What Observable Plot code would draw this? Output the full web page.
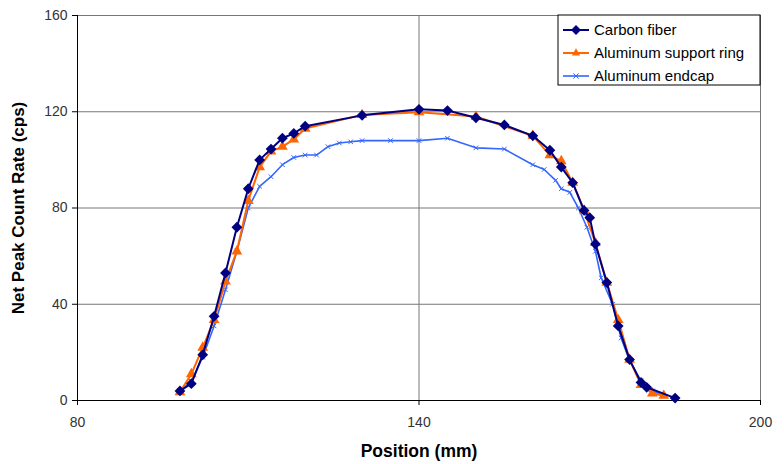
<!DOCTYPE html>
<html>
<head>
<meta charset="utf-8">
<script src="https://cdn.jsdelivr.net/npm/d3@7"></script>
<script src="https://cdn.jsdelivr.net/npm/@observablehq/plot@0.6"></script>
<style>
  html, body { margin: 0; padding: 0; background: #fff; }
  #chart { width: 784px; height: 464px; }
</style>
</head>
<body>
<div id="chart"></div>
<script>
// ---- data ----
const seriesNames = ["Carbon fiber", "Aluminum support ring", "Aluminum endcap"];

const carbonX = [98,100,102,104,106,108,110,112,114,116,118,120,130,140,145,150,155,160,163,165,167,169,170,171,173,175,177,179,180,185];
const carbonY = [4,7,19,35,53,72,88,100,104.5,109,111,114,118.5,121,120.5,117.5,114.5,110,104,97,90.5,79,76,65,49,31,17,7.5,5.5,1];

const ringX = [98,100,102,104,106,108,110,112,114,116,118,120,130,140,150,160,163,165,167,169,171,173,175,177,179,181,183];
const ringY = [3.5,11,22,33.5,49.5,62,83,97,103.5,105.5,108.5,113,118.7,119.8,118,110,102,99.5,90.5,79,65.5,49,33.5,17,6.5,3,2];

const endcapX = [98,100,102,104,106,108,110,112,114,116,118,120,122,124,126,128,130,135,140,145,150,155,160,162,164,165,166.5,168,169.5,171,172,174,175.5,177,179,181,183];
const endcapY = [4,8,18,31,46,62,80,89,93,98,101,102,102,105.5,107,107.5,108,108,108,109,105,104.5,98,96,91.5,88,86.5,80,72,62,51,40,26,16.5,8.3,4,2];

const xTicks = [80,140,200];
const yTicks = [0,40,80,120,160];

const colors = ["#000080", "#FF6600", "#3366FF"];

const toRows = (xs, ys, name) => xs.map((x, i) => ({x, y: ys[i], series: name}));
const carbon = toRows(carbonX, carbonY, seriesNames[0]);
const ring = toRows(ringX, ringY, seriesNames[1]);
const endcap = toRows(endcapX, endcapY, seriesNames[2]);

const font = "'Liberation Sans', Arial, sans-serif";

// square diamond (rotated square), like Excel's marker
const squareDiamond = {
  draw(ctx, size) {
    const r = Math.sqrt(size / 2);
    ctx.moveTo(0, -r); ctx.lineTo(r, 0); ctx.lineTo(0, r); ctx.lineTo(-r, 0); ctx.closePath();
  }
};

const plot = Plot.plot({
  width: 784,
  height: 464,
  marginLeft: 77,
  marginRight: 24,
  marginTop: 15,
  marginBottom: 64,
  style: {fontFamily: font, fontSize: "14px", background: "#fff", color: "#333"},
  x: {domain: [80, 200], ticks: xTicks, label: null},
  y: {domain: [0, 160], ticks: yTicks, label: null},
  marks: [
    Plot.ruleY(yTicks.filter(d => d > 0), {stroke: "#777", strokeWidth: 1}),
    Plot.ruleX(xTicks.filter(d => d > 80), {stroke: "#777", strokeWidth: 1}),
    Plot.ruleX([80], {stroke: "#000", strokeWidth: 1}),
    Plot.ruleY([0], {stroke: "#000", strokeWidth: 1}),
    Plot.axisX({ticks: xTicks, tickSize: 5, tickPadding: 12, stroke: "#000", fill: "#333", fontSize: 14, label: null}),
    Plot.axisY({ticks: yTicks, tickSize: 5, tickPadding: 5, stroke: "#000", fill: "#333", fontSize: 14, label: null}),
    Plot.line(endcap, {x: "x", y: "y", stroke: colors[2], strokeWidth: 1.6}),
    Plot.dot(endcap, {x: "x", y: "y", symbol: "times", stroke: colors[2], r: 2.2, strokeWidth: 1}),
    Plot.line(ring, {x: "x", y: "y", stroke: colors[1], strokeWidth: 2}),
    Plot.dot(ring, {x: "x", y: "y", symbol: "triangle", fill: colors[1], stroke: "none", r: 4}),
    Plot.line(carbon, {x: "x", y: "y", stroke: colors[0], strokeWidth: 2}),
    Plot.dot(carbon, {x: "x", y: "y", symbol: squareDiamond, fill: colors[0], stroke: "none", r: 4.3}),
    Plot.text(["Position (mm)"], {frameAnchor: "bottom", dy: 56, text: d => d, fontWeight: "bold", fontSize: 17.5, fill: "#000", textAnchor: "middle"}),
    Plot.text(["Net Peak Count Rate (cps)"], {frameAnchor: "left", dx: -59, rotate: -90, text: d => d, fontWeight: "bold", fontSize: 17, fill: "#000", textAnchor: "middle"})
  ]
});

document.getElementById("chart").appendChild(plot);

// ---- legend (inside the SVG, top right) ----
const svg = d3.select(plot);
const lg = svg.append("g").attr("transform", "translate(558,15)").attr("text-anchor", "start");
lg.append("rect").attr("width", 202).attr("height", 70).attr("fill", "#fff").attr("stroke", "#000").attr("stroke-width", 1);
const symbols = [squareDiamond, d3.symbolTriangle, d3.symbolX];
seriesNames.forEach((name, i) => {
  const y = 15 + i * 23;
  const g = lg.append("g").attr("transform", `translate(0,${y})`);
  g.append("line").attr("x1", 5).attr("x2", 31).attr("y1", 0).attr("y2", 0)
    .attr("stroke", colors[i]).attr("stroke-width", i === 2 ? 1.6 : 2);
  const sym = g.append("path").attr("transform", "translate(18,0)")
    .attr("d", d3.symbol(symbols[i], i === 0 ? 50 : (i === 1 ? 30 : 20))());
  if (i === 2) sym.attr("fill", "none").attr("stroke", colors[i]).attr("stroke-width", 1);
  else sym.attr("fill", colors[i]);
  g.append("text").attr("x", 36).attr("y", 0).attr("dy", "0.35em").attr("text-anchor", "start")
    .attr("font-family", font).attr("font-size", 15).attr("fill", "#000").text(name);
});
</script>
</body>
</html>
